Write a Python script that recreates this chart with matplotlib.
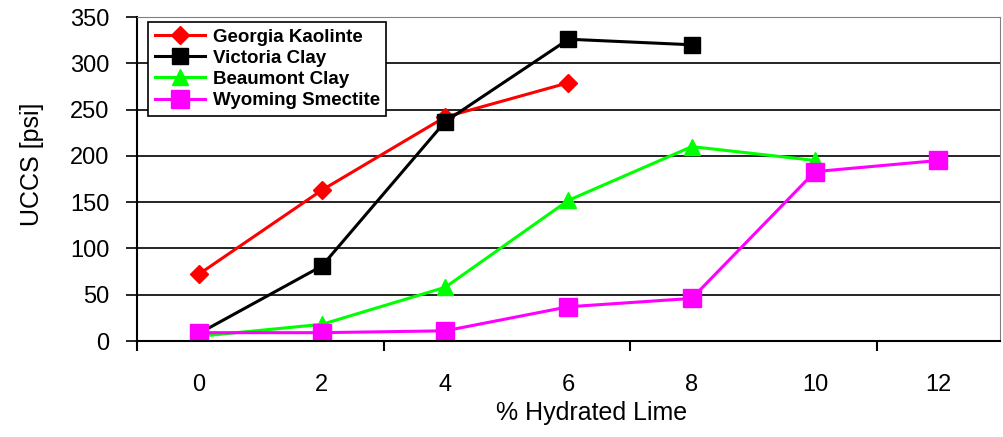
import matplotlib
matplotlib.use("Agg")
import matplotlib.pyplot as plt
import numpy as np

plt.rcParams['font.family'] = ['Liberation Sans', 'DejaVu Sans']

lime = ['0', '2', '4', '6', '8', '10', '12']

georgia = [72, 163, 242, 279]
victoria = [8, 81, 237, 326, 320]
beaumont = [5, 18, 58, 152, 210, 195]
wyoming = [9, 9, 11, 37, 46, 183, 195]

fig = plt.figure(figsize=(10.04, 4.37), dpi=100)
ax = fig.add_axes([137 / 1004, 1 - 341 / 437, 863 / 1004, 324 / 437])

ax.plot(range(len(georgia)), georgia, color='#ff0000', lw=2.2, marker='D',
        ms=9, label='Georgia Kaolinte')
ax.plot(range(len(victoria)), victoria, color='#000000', lw=2.2, marker='s',
        ms=12, label='Victoria Clay')
ax.plot(range(len(beaumont)), beaumont, color='#00ff00', lw=2.2, marker='^',
        ms=12, label='Beaumont Clay')
ax.plot(range(len(wyoming)), wyoming, color='#ff00ff', lw=2.2, marker='s',
        ms=13, label='Wyoming Smectite')

ax.set_xlim(-0.5, 6.5)
ax.set_ylim(0, 350)
ax.set_yticks(np.arange(0, 351, 50))
ax.yaxis.grid(True, color='black', lw=1.2)
ax.set_axisbelow(True)

# category labels centered, tick marks every two categories
ax.set_xticks(range(len(lime)))
ax.set_xticklabels(lime)
ax.tick_params(axis='x', length=0, pad=24, labelsize=17)
ax.set_xticks([-0.5, 1.5, 3.5, 5.5], minor=True)
ax.tick_params(axis='x', which='minor', length=7, width=1.5, direction='out')
ax.tick_params(axis='y', length=8, width=1.2, direction='out', labelsize=17, pad=12)

for s in ['top', 'right']:
    ax.spines[s].set_color('#808080')
    ax.spines[s].set_linewidth(0.8)
ax.spines['left'].set_linewidth(1.5)
ax.spines['bottom'].set_linewidth(1.5)

ax.set_xlabel('% Hydrated Lime', fontsize=18)
ax.xaxis.set_label_coords(0.527, -0.222)
ax.xaxis.label.set_va('center')
ax.set_ylabel('UCCS [psi]', fontsize=18)
ax.yaxis.set_label_coords(-0.122, 0.546)
ax.yaxis.label.set_va('center')

leg = ax.legend(loc='upper left', bbox_to_anchor=(0.0127, 0.985), frameon=True,
                fancybox=False, edgecolor='black', framealpha=1,
                prop={'weight': 'bold', 'size': 13.5}, handlelength=2.7,
                labelspacing=0.22, borderpad=0.35, handletextpad=0.4,
                borderaxespad=0)
leg.get_frame().set_linewidth(1.2)

fig.savefig('out.png', dpi=100)
